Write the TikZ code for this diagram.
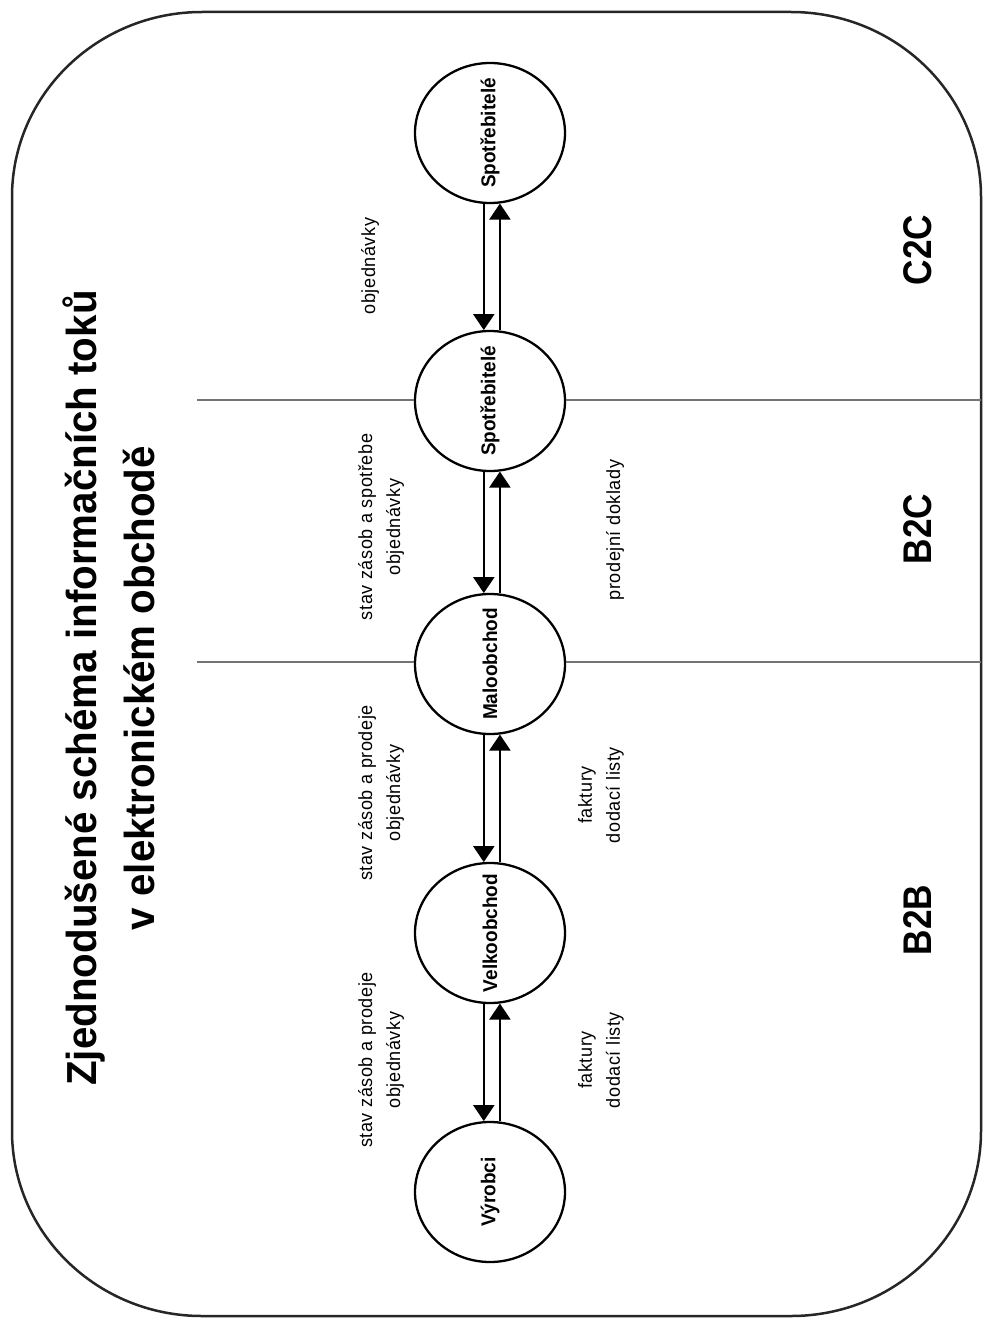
\documentclass[tikz,border=0pt]{standalone}
\usepackage{fontspec}
\usepackage{graphicx}
\setmainfont{Liberation Sans}
\newfontfamily\titlefont[FakeStretch=0.96]{Liberation Sans}
\newfontfamily\zonefont[FakeStretch=0.88]{Liberation Sans}
\newfontfamily\lblfont[FakeStretch=0.95,LetterSpace=3]{Liberation Sans}
\newfontfamily\actfont[FakeStretch=0.95]{Liberation Sans}
\usetikzlibrary{arrows.meta,shapes.geometric}
\tikzset{
  actor/.style={draw, line width=2.3pt, ellipse, minimum width=150pt, minimum height=140pt, inner sep=0pt},
  actorlbl/.style={rotate=90, inner sep=0pt, font=\actfont\bfseries\fontsize{20}{24}\selectfont},
  flow/.style={line width=2.2pt, -{Triangle[width=21pt,length=16pt]}},
  divider/.style={draw=black!55, line width=1.5pt},
  lbl/.style={rotate=90, align=center, inner sep=0pt, font=\lblfont\fontsize{19}{28}\selectfont},
  zone/.style={rotate=90, inner sep=0pt, font=\zonefont\bfseries\fontsize{40}{48}\selectfont},
  heading/.style={rotate=90, align=center, inner sep=0pt, font=\titlefont\bfseries\fontsize{42}{58}\selectfont},
  frame/.style={line width=2.5pt, draw=black!85}
}
\begin{document}
\begin{tikzpicture}[x=1pt,y=-1pt]
\useasboundingbox (0,0) rectangle (984,1319);
% outer frame
\draw[frame] (12,197) .. controls (12,95) and (97,12) .. (202,12)
  -- (791,12) .. controls (896,12) and (981,95) .. (981,197)
  -- (981,1131) .. controls (981,1233) and (896,1316) .. (791,1316)
  -- (202,1316) .. controls (97,1316) and (12,1233) .. (12,1131) -- cycle;

% title
\node[heading] (title) at (109,688) {Zjednodušené schéma informačních toků\\v elektronickém obchodě};

% actors
\node[actor, label={[actorlbl]center:Spotřebitelé}] (s1) at (490,133) {};
\node[actor, label={[actorlbl]center:Spotřebitelé}] (s2) at (490,401) {};
\node[actor, label={[actorlbl]center:Maloobchod}] (m) at (490,664) {};
\node[actor, label={[actorlbl]center:Velkoobchod}] (v) at (490,933) {};
\node[actor, label={[actorlbl]center:Výrobci}] (p) at (490,1192) {};

% flows
\draw[flow] (s1.265) -- (s2.95);
\draw[flow] (s2.82) -- (s1.278);
\draw[flow] (s2.265) -- (m.95);
\draw[flow] (m.82) -- (s2.278);
\draw[flow] (m.265) -- (v.95);
\draw[flow] (v.82) -- (m.278);
\draw[flow] (v.265) -- (p.95);
\draw[flow] (p.82) -- (v.278);

% dividers
\coordinate (d1l) at (197,400);
\coordinate (d1r) at (981,400);
\coordinate (d2l) at (197,662);
\coordinate (d2r) at (981,662);
\draw[divider] (d1l) -- (d1l -| s2.west);
\draw[divider] (d1r -| s2.east) -- (d1r);
\draw[divider] (d2l) -- (d2l -| m.west);
\draw[divider] (d2r -| m.east) -- (d2r);

% flow labels
\node[lbl] (l1) at (370,266) {objednávky};
\node[lbl] (l2) at (381,527) {stav zásob a spotřebe\\objednávky};
\node[lbl] (l3) at (381,793) {stav zásob a prodeje\\objednávky};
\node[lbl] (l4) at (381,1060) {stav zásob a prodeje\\objednávky};
\node[lbl] (r2) at (615,530) {prodejní doklady};
\node[lbl] (r3) at (601,795) {faktury\\dodací listy};
\node[lbl] (r4) at (601,1060) {faktury\\dodací listy};

% zones
\node[zone] (c2c) at (918,250) {C2C};
\node[zone] (b2c) at (918,529) {B2C};
\node[zone] (b2b) at (918,920) {B2B};
\end{tikzpicture}
\end{document}
